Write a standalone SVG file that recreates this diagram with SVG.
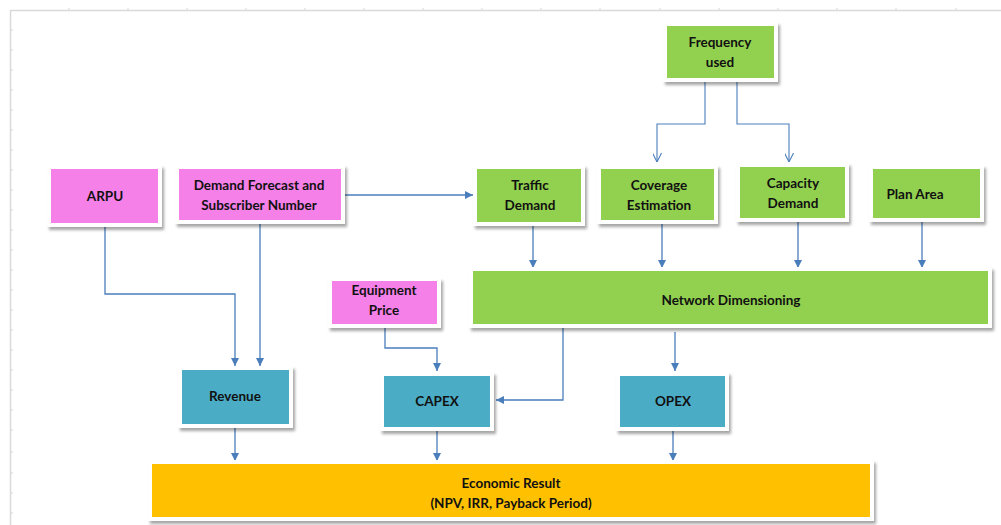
<svg xmlns="http://www.w3.org/2000/svg" width="1001" height="525" viewBox="0 0 1001 525">
  <style>
    .card { fill: #ffffff; filter: url(#shadow); }
    .green { fill: #92d050; }
    .pink { fill: #f580e8; }
    .teal { fill: #4bacc6; }
    .gold { fill: #ffc000; }
    .label { font-family: Lato, "Open Sans", "Liberation Sans", sans-serif; font-weight: bold; font-size: 13.5px; fill: #111111; text-anchor: middle; }
    .wire { fill: none; stroke: #4a7ebb; stroke-width: 1.3; marker-end: url(#tri); }
    .wire-open { fill: none; stroke: #4a7ebb; stroke-width: 1.1; marker-end: url(#vee); }
    .frame { stroke: #d9d9d9; stroke-width: 1.5; fill: none; }
    .tick { stroke: #d9d9d9; stroke-width: 1; }
  </style>
  <defs>
    <filter id="shadow" x="-10%" y="-20%" width="130%" height="150%">
      <feDropShadow dx="2" dy="3" stdDeviation="1.6" flood-color="#000000" flood-opacity="0.35"/>
    </filter>
    <marker id="tri" viewBox="0 0 10 10" refX="10" refY="5" markerWidth="8" markerHeight="8" markerUnits="userSpaceOnUse" orient="auto">
      <path d="M0,0 L10,5 L0,10 z" fill="#4a7ebb"/>
    </marker>
    <marker id="vee" viewBox="0 0 10 10" refX="10" refY="5" markerWidth="9" markerHeight="9" markerUnits="userSpaceOnUse" orient="auto">
      <path d="M0,0 L10,5 L0,10" fill="none" stroke="#4a7ebb" stroke-width="1.2"/>
    </marker>
  </defs>

  <rect width="1001" height="525" fill="#ffffff"/>

  <!-- sheet frame with gridline ticks -->
  <g id="frame">
    <path class="frame" d="M10.5,525 V10.5 H1001"/>
    <path class="tick" d="M69,8 V10 M128,8 V10 M187,8 V10 M246,8 V10 M305,8 V10 M364,8 V10 M423,8 V10 M482,8 V10 M541,8 V10 M600,8 V10 M660,8 V10 M719,8 V10 M778,8 V10 M837,8 V10 M896,8 V10 M956,8 V10"/>
    <path class="tick" d="M11,30 H13 M11,50 H13 M11,70 H13 M11,90 H13 M11,110 H13 M11,130 H13 M11,150 H13 M11,170 H13 M11,190 H13 M11,210 H13 M11,230 H13 M11,250 H13 M11,270 H13 M11,290 H13 M11,310 H13 M11,330 H13 M11,350 H13 M11,370 H13 M11,390 H13 M11,410 H13 M11,430 H13 M11,452 H13 M11,473 H13 M11,493 H13 M11,513 H13"/>
  </g>

  <!-- connectors -->
  <g id="connectors">
    <path class="wire" d="M105,227 V294 H235 V366"/>
    <path class="wire" d="M260,224 V366"/>
    <path class="wire" d="M345,195 H473"/>
    <path class="wire-open" d="M705,82 V124 H657 V162"/>
    <path class="wire-open" d="M737,82 V124 H789 V162"/>
    <path class="wire" d="M533,226 V268"/>
    <path class="wire" d="M662,224 V268"/>
    <path class="wire" d="M798,222 V268"/>
    <path class="wire" d="M922,222 V268"/>
    <path class="wire" d="M385,328 V348 H437 V371"/>
    <path class="wire" d="M563,328 V400 H496"/>
    <path class="wire" d="M675,332 V371"/>
    <path class="wire" d="M235,428 V461"/>
    <path class="wire" d="M437,431 V461"/>
    <path class="wire" d="M673,431 V461"/>
  </g>

  <g id="frequency-used">
    <rect class="card" x="663" y="22" width="115" height="60"/>
    <rect class="green" x="667" y="26" width="107" height="52"/>
    <text class="label" x="720" y="47">Frequency</text>
    <text class="label" x="720" y="67">used</text>
  </g>

  <g id="arpu">
    <rect class="card" x="47" y="165" width="115" height="62"/>
    <rect class="pink" x="51" y="169" width="107" height="54"/>
    <text class="label" x="105" y="201">ARPU</text>
  </g>

  <g id="demand-forecast">
    <rect class="card" x="175" y="165" width="170" height="59"/>
    <rect class="pink" x="179" y="169" width="162" height="51"/>
    <text class="label" x="259" y="190">Demand Forecast and</text>
    <text class="label" x="259" y="210">Subscriber Number</text>
  </g>

  <g id="traffic-demand">
    <rect class="card" x="473" y="165" width="112" height="61"/>
    <rect class="green" x="477" y="169" width="104" height="53"/>
    <text class="label" x="530" y="190">Traffic</text>
    <text class="label" x="530" y="210">Demand</text>
  </g>

  <g id="coverage-estimation">
    <rect class="card" x="597" y="165" width="121" height="59"/>
    <rect class="green" x="601" y="169" width="113" height="51"/>
    <text class="label" x="659" y="190">Coverage</text>
    <text class="label" x="659" y="210">Estimation</text>
  </g>

  <g id="capacity-demand">
    <rect class="card" x="736" y="163" width="113" height="59"/>
    <rect class="green" x="740" y="167" width="105" height="51"/>
    <text class="label" x="793" y="188">Capacity</text>
    <text class="label" x="793" y="208">Demand</text>
  </g>

  <g id="plan-area">
    <rect class="card" x="869" y="165" width="115" height="57"/>
    <rect class="green" x="873" y="169" width="107" height="49"/>
    <text class="label" x="915" y="199">Plan Area</text>
  </g>

  <g id="network-dimensioning">
    <rect class="card" x="469" y="267" width="523" height="61"/>
    <rect class="green" x="473" y="271" width="515" height="53"/>
    <text class="label" x="731" y="305">Network  Dimensioning</text>
  </g>

  <g id="equipment-price">
    <rect class="card" x="328" y="278" width="113" height="50"/>
    <rect class="pink" x="332" y="281" width="105" height="43"/>
    <text class="label" x="384" y="295">Equipment</text>
    <text class="label" x="384" y="315">Price</text>
  </g>

  <g id="revenue">
    <rect class="card" x="178" y="366" width="115" height="62"/>
    <rect class="teal" x="182" y="370" width="107" height="54"/>
    <text class="label" x="235" y="401">Revenue</text>
  </g>

  <g id="capex">
    <rect class="card" x="380" y="372" width="114" height="59"/>
    <rect class="teal" x="384" y="376" width="106" height="51"/>
    <text class="label" x="437" y="406">CAPEX</text>
  </g>

  <g id="opex">
    <rect class="card" x="616" y="372" width="113" height="59"/>
    <rect class="teal" x="620" y="376" width="105" height="51"/>
    <text class="label" x="673" y="406">OPEX</text>
  </g>

  <g id="economic-result">
    <rect class="card" x="148" y="460" width="726" height="61"/>
    <rect class="gold" x="152" y="464" width="718" height="53"/>
    <text class="label" x="511" y="488">Economic Result</text>
    <text class="label" x="511" y="508">(NPV, IRR, Payback Period)</text>
  </g>
</svg>
